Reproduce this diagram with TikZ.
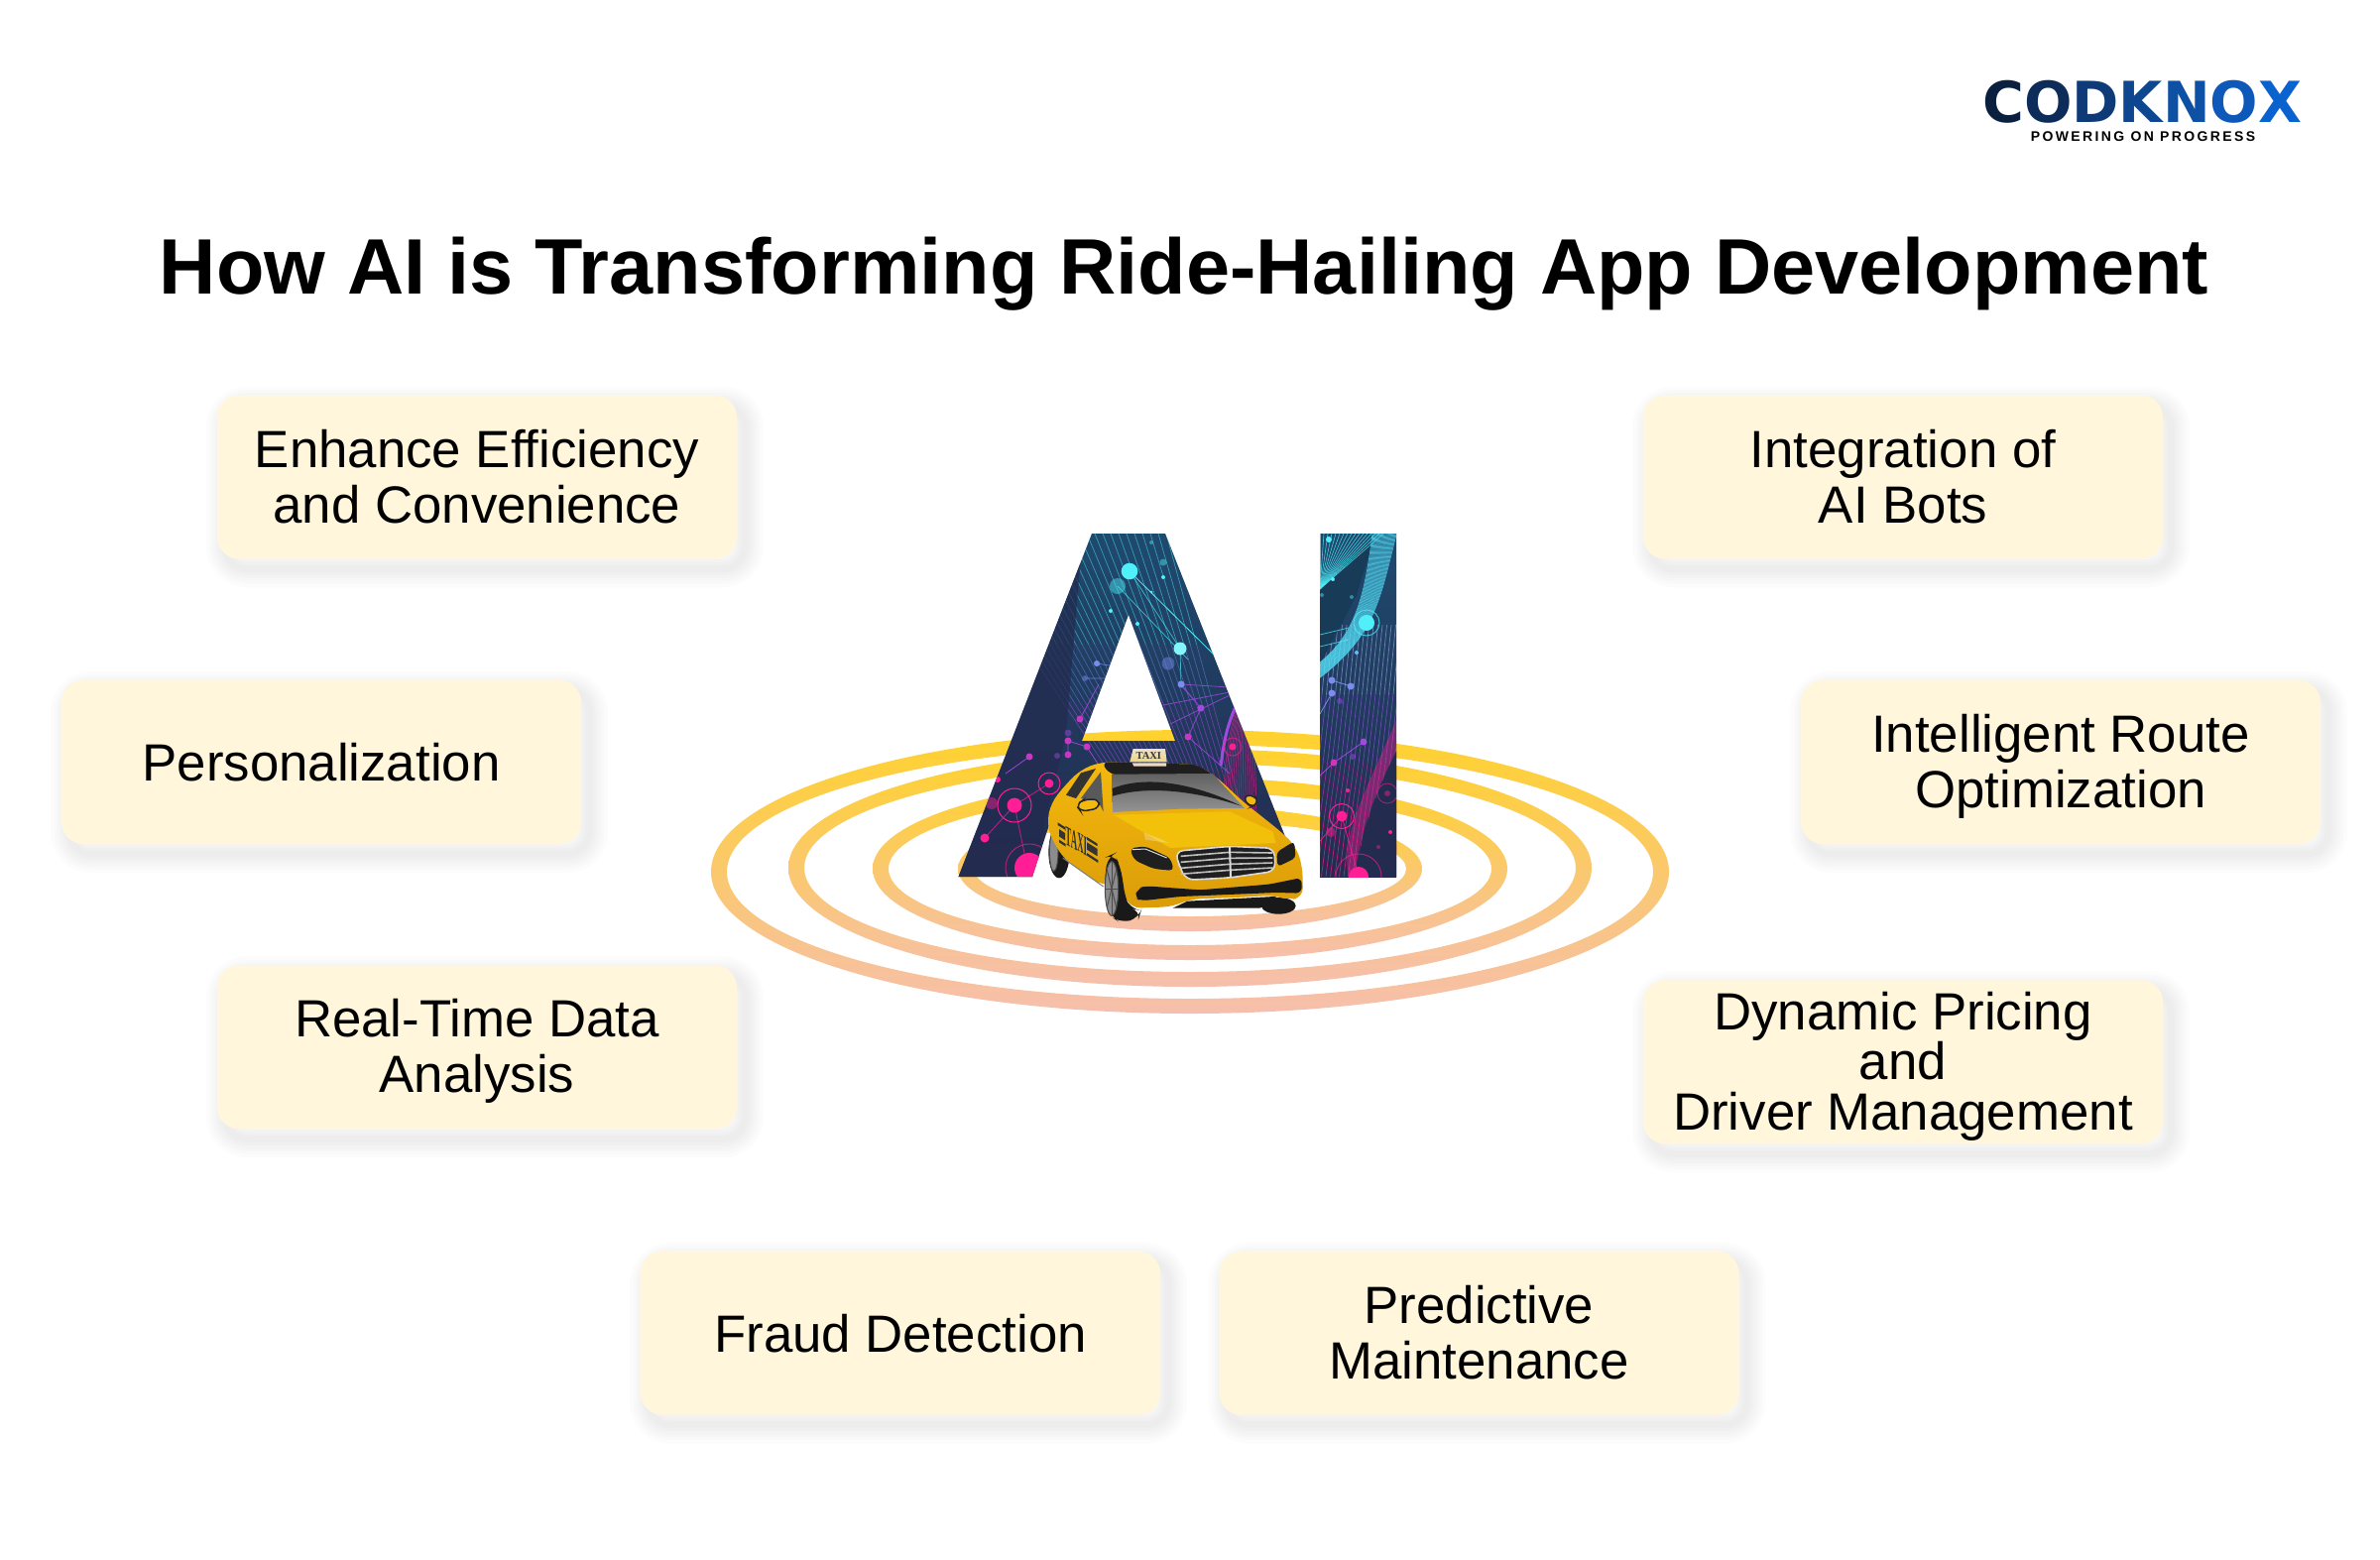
\documentclass[tikz,border=0pt]{standalone}
\usepackage{fontspec}
\usepackage{tikz}
\usetikzlibrary{positioning}
\setmainfont{Liberation Sans}
\newfontfamily\logofont{DejaVu Sans}
\newfontfamily\tagfont[LetterSpace=17]{Liberation Sans}
\newfontfamily\signfont{Liberation Serif}

\definecolor{cardfill}{HTML}{FFF6DB}
\definecolor{ringtop}{HTML}{FFD22C}
\definecolor{ringmid}{HTML}{FCCB68}
\definecolor{ringlow}{HTML}{F6BFAE}
\definecolor{aitop}{HTML}{1E4A6E}
\definecolor{aimid}{HTML}{2B3568}
\definecolor{ailow}{HTML}{232B4F}
\definecolor{dotcyan}{HTML}{4FF0FA}
\definecolor{dotblue}{HTML}{7A8CF0}
\definecolor{dotviolet}{HTML}{A24AE0}
\definecolor{dotpink}{HTML}{FF1E96}
\definecolor{taxi}{HTML}{F4B90E}
\definecolor{taxilow}{HTML}{DB9C08}
\definecolor{logoa}{HTML}{0B1F3F}
\definecolor{logob}{HTML}{0D2C5A}
\definecolor{logoc}{HTML}{0F3A78}
\definecolor{logod}{HTML}{0E4790}
\definecolor{logoe}{HTML}{0D50A4}
\definecolor{logof}{HTML}{0D58B8}
\definecolor{logog}{HTML}{0A62CE}

\def\letterA{(966.5,884) -- (1101,538) -- (1138,538) -- (1138,620) -- (1091,747) -- (1185,747) -- (1138,620) -- (1138,538) -- (1175,538) -- (1312,884) -- (1237,884) -- (1210,810) -- (1065,810) -- (1041,884) -- cycle}
\def\letterI{(1331,538) rectangle (1408,884)}
\def\topstrut{\rule{0pt}{48.2pt}}
\def\talltop{\rule{0pt}{46.6pt}}
\def\lowstrut{\rule[-10.4pt]{0pt}{10.4pt}}

\tikzset{
	shadowstroke/.style={preaction={draw=black, draw opacity=.012, line width=#1, transform canvas={shift={(8pt,-10pt)}}}},
	softshadow/.style={shadowstroke=38pt, shadowstroke=31pt, shadowstroke=25pt, shadowstroke=19pt, shadowstroke=13pt, shadowstroke=7pt},
	card/.style={softshadow, fill=cardfill, rounded corners=22pt, minimum width=524pt, minimum height=165pt,
		inner sep=0pt, align=center, font=\fontsize{52.8}{56}\selectfont,
		execute at end node=\lowstrut},
	ring/.style={even odd rule, top color=ringtop, middle color=ringmid, bottom color=ringlow},
	halo/.style={draw=#1, line width=1pt},
	tire/.style={fill=black!90},
	rim/.style={fill=black!45, draw=black!70, line width=1pt},
	slat/.style={draw=black!25, line width=1.6pt}
}

\begin{document}
\begin{tikzpicture}[x=1pt, y=-1pt]
	\useasboundingbox (0,0) rectangle (2400,1572);
	\fill[white] (0,0) rectangle (2400,1572);

	% logo and title
	\node[anchor=base west, inner sep=0pt, font=\logofont\bfseries\fontsize{57}{57}\selectfont] (logo) at (1999,123)
		{\textcolor{logoa}{C}\textcolor{logob}{O}\textcolor{logoc}{D}\textcolor{logod}{K}\textcolor{logoe}{N}\textcolor{logof}{O}\textcolor{logog}{X}};
	\node[anchor=base, inner sep=0pt, font=\tagfont\bfseries\fontsize{14}{14}\selectfont] (tagline) at (2161,142) {POWERING ON PROGRESS};
	\node[anchor=base, inner sep=0pt, font=\bfseries\fontsize{79.3}{80}\selectfont] (title) at (1194,296)
		{How AI is Transforming Ride-Hailing App Development};

	% rings
	\shade[ring] (1200,879) ellipse [x radius=483, y radius=143] (1200,879) ellipse [x radius=467, y radius=128];
	\shade[ring] (1200,875) ellipse [x radius=405, y radius=120] (1200,875) ellipse [x radius=389, y radius=105];
	\shade[ring] (1200,876) ellipse [x radius=320, y radius=92] (1200,876) ellipse [x radius=304, y radius=77];
	\shade[ring] (1200,876) ellipse [x radius=234, y radius=63] (1200,876) ellipse [x radius=218, y radius=48];

	% letter A
	\begin{scope}
		\clip \letterA;
		\shade[top color=aitop, middle color=aimid, bottom color=ailow] (960,538) rectangle (1320,884);
		\foreach \x in {960,968,...,1176} {
			\draw[dotcyan, opacity=.5, line width=.7pt] (\x,538) -- ({\x+(1330-\x)*.1993},650);
			\draw[dotblue, opacity=.45, line width=.7pt] ({\x+(1330-\x)*.1993},650) -- ({\x+(1330-\x)*.3025},708);
			\draw[dotviolet, opacity=.55, line width=.7pt] ({\x+(1330-\x)*.3025},708) -- ({\x+(1330-\x)*.427},778);
			\draw[dotpink, opacity=.45, line width=.7pt] ({\x+(1330-\x)*.427},778) -- ({\x+(1330-\x)*.6157},884);
		}
		\fill[ailow, opacity=.75] (960,884) -- (1090,560) -- (1075,740) -- (1041,884) -- cycle;
		\foreach \i in {0,2,...,34}
			\draw[dotpink, opacity=.5, line width=.7pt] (1225+\i,884) .. controls (1240+\i,800) and (1228+\i,760) .. (1252+\i*.3,700);
		\draw[dotviolet, line width=3pt] (1247,710) .. controls (1236,735) and (1234,750) .. (1231,772);
		\draw[dotviolet, opacity=.8, line width=.8pt] (1240,693) -- (1191,690) (1240,698) -- (1173,711) (1240,701) -- (1180,730)
			(1191,690) -- (1211,714) -- (1198,743) (1211,714) -- (1190,690) (1198,743) -- (1240,780);
		\draw[dotcyan, line width=.8pt] (1139,576) -- (1224,660);
		\draw[dotcyan, opacity=.7, line width=.7pt] (1139,576) -- (1190,654) -- (1191,690) (1127,591) -- (1198,665);
		\draw[dotblue, opacity=.8, line width=.7pt] (1106,669) -- (1125,672) (1094,684) -- (1115,684);
		\draw[dotviolet, line width=.7pt] (1089,725) -- (1108,690) (1077,747) -- (1096,753) (1077,747) -- (1077,761) (1096,753) -- (1120,790) (1038,763) -- (1014,780);
		\draw[dotpink, opacity=.7, line width=.8pt] (1023,812) -- (993,845) (1023,812) -- (1058,790) (1023,812) -- (1036,875);
		\foreach \x/\y/\r/\c in {1139/576/8.3/dotcyan, 1173/582/2/dotcyan, 1120/616/2/dotcyan, 1147/629/2/dotcyan, 1161/597/1.5/dotcyan,
				1190/654/6.5/dotcyan!70!white, 1106/669/3/dotblue, 1191/690/3.5/dotblue,
				1211/714/3.5/dotviolet, 1198/743/3.5/dotviolet!60!dotpink, 1089/725/3.5/dotviolet!60!dotpink, 1077/747/3.5/dotviolet!60!dotpink,
				1096/753/3.5/dotviolet!60!dotpink, 1077/761/3.5/dotviolet!60!dotpink, 1038/763/3.5/dotviolet!60!dotpink, 1006/786/3/dotpink,
				1058/790/4.5/dotpink, 1023/812/7.5/dotpink, 993/845/4.5/dotpink, 1038/875/15/dotpink, 1243/753/3.5/dotpink}
			\fill[\c] (\x,\y) circle [radius=\r];
		\foreach \x/\y/\r/\c in {1127/591/8/dotcyan, 1173/567/3.5/dotcyan, 1161/547/2/dotcyan, 1178/669/6.5/dotblue, 1094/684/3/dotblue,
				1077/739/3.5/dotviolet, 1066/762/3/dotviolet, 1000/810/6/dotpink}
			\fill[\c, opacity=.45] (\x,\y) circle [radius=\r];
		\draw[halo=dotpink] (1023,812) circle [radius=17];
		\draw[halo=dotpink] (1058,790) circle [radius=11];
		\draw[halo=dotpink, opacity=.6] (1243,753) circle [radius=9];
		\draw[halo=dotpink, opacity=.6] (1038,875) circle [radius=24];
	\end{scope}

	% letter I
	\begin{scope}
		\clip \letterI;
		\shade[top color=aitop, middle color=aimid, bottom color=ailow] (1331,538) rectangle (1408,884);
		\foreach \x in {1331,1335.5,...,1440} {
			\draw[dotblue!60!white, opacity=.55, line width=.7pt] (\x,630) -- (\x-7,700);
			\draw[dotviolet!70!dotblue, opacity=.6, line width=.7pt] (\x-7,700) -- (\x-15,770);
			\draw[dotviolet!40!dotpink, opacity=.6, line width=.7pt] (\x-15,770) -- (\x-22,820);
			\draw[dotpink, opacity=.7, line width=.7pt] (\x-22,820) -- (\x-30,884);
		}
		\fill[ailow] (1408,757) .. controls (1390,795) and (1372,840) .. (1367,884) -- (1408,884) -- cycle;
		\foreach \i in {0,1.5,...,30}
			\draw[dotpink, opacity=.4, line width=.5pt] (1408,757-\i) .. controls (1388-\i*.3,795) and (1370-\i*.6,840) .. (1366-\i*.2,884);
		\fill[aitop!80!black] (1331,590) -- (1385,545) -- (1368,600) -- (1331,670) -- cycle;
		\foreach \i in {0,4,...,64}
			\draw[dotcyan, opacity=.8, line width=.6pt] (1331+\i,538) -- (1331,594);
		\foreach \i in {0,1,...,22}
			\draw[dotcyan!85!dotblue, opacity=.8, line width=.6pt] (1384+\i*1.1,538) .. controls (1376+\i*.7,605) and (1365+\i,640) .. (1331,668+\i*.7);
		\draw[dotcyan, opacity=.7, line width=.8pt] (1331,640) -- (1360,633) (1331,652) -- (1360,645);
		\draw[dotblue, line width=.8pt] (1343,686) -- (1362,692) (1343,699) -- (1331,720);
		\draw[dotviolet, line width=.8pt] (1375,748) -- (1345,769) -- (1331,782);
		\draw[dotpink, opacity=.8, line width=.8pt] (1353,823) -- (1331,848) (1353,823) -- (1370,883);
		\foreach \x/\y/\r/\c in {1340/544/3/dotcyan, 1344/584/2/dotcyan, 1378/628/8/dotcyan, 1368/658/2/dotcyan!50!dotblue,
				1343/686/3.5/dotblue, 1362/692/3.5/dotblue, 1343/699/3.5/dotblue,
				1375/748/3.5/dotviolet, 1345/769/3.5/dotviolet!50!dotpink, 1359/797/2/dotpink, 1353/823/5.5/dotpink,
				1402/839/2/dotpink, 1370/884/10/dotpink}
			\fill[\c] (\x,\y) circle [radius=\r];
		\foreach \x/\y/\r/\c in {1333/600/2/dotcyan, 1363/602/2/dotcyan, 1351/707/3/dotviolet, 1364/763/3/dotviolet, 1342/839/5/dotpink,
				1390/854/2/dotpink, 1399/800/3/dotpink}
			\fill[\c, opacity=.45] (\x,\y) circle [radius=\r];
		\draw[halo=dotcyan, opacity=.7] (1378,628) circle [radius=13];
		\draw[halo=dotpink] (1353,823) circle [radius=12.5];
		\draw[halo=dotpink, opacity=.6] (1370,884) circle [radius=23];
		\draw[halo=dotpink, opacity=.5] (1399,800) circle [radius=10];
	\end{scope}

	% taxi, in the coordinates of a 3x crop
	\begin{scope}[x=1pt/3, y=-1pt/3, shift={(1040pt,-750pt)}]
		% wheels behind the body
		\fill[tire] (84,328) ellipse [x radius=32, y radius=78];
		\fill[rim] (68,325) ellipse [x radius=13, y radius=60];
		\fill[tire] (748,490) ellipse [x radius=52, y radius=25];
		% body
		\shade[top color=taxi, bottom color=taxilow, rounded corners=10pt]
			(47,240) -- (60,178) -- (105,122) -- (150,78) -- (210,55) -- (500,62) -- (560,100) -- (640,175)
			-- (700,222) -- (760,270) -- (800,310) -- (820,370) -- (822,466) -- (775,472) -- (735,458) -- (640,464)
			-- (480,470) -- (425,493) -- (300,497) -- (262,420) -- (215,430) -- (100,350) -- (60,285) -- cycle;
		\fill[taxi!75!yellow, opacity=.7] (250,215) -- (600,205) -- (730,265) -- (740,300) -- (420,315) -- (340,268) -- cycle;
		\fill[white, opacity=.25] (340,268) -- (395,290) -- (415,300) -- (345,290) -- cycle;
		\draw[black!50, line width=1pt] (95,345) -- (218,432);
		% roof and glass
		\fill[black!88, rounded corners=8pt] (210,55) -- (500,62) -- (560,100) -- (240,95) -- cycle;
		\shade[top color=black!62, bottom color=black!42] (243,92) -- (548,90) -- (645,195) -- (450,197) -- (246,207) -- cycle;
		\fill[black!88] (245,135) .. controls (320,105) and (450,100) .. (635,188) .. controls (470,135) and (340,130) .. (246,158) -- cycle;
		\fill[black!80] (105,155) -- (150,88) -- (195,75) -- (135,165) -- cycle;
		\fill[black!65] (150,165) -- (210,85) -- (218,205) -- (205,180) -- cycle;
		% mirrors
		\fill[taxi, draw=black!85, line width=1.5pt, rounded corners=6pt] (135,185) -- (160,168) -- (205,168) -- (205,195) -- (150,205) -- cycle;
		\fill[taxi, draw=black!85, line width=1.5pt, rounded corners=6pt] (640,158) -- (675,155) -- (688,180) -- (660,192) -- cycle;
		% roof sign
		\shade[top color=brown!25!white, bottom color=yellow!50!brown!60!white] (308,15) -- (405,15) -- (410,55) -- (298,55) -- cycle;
		\node[font=\signfont\bfseries\fontsize{10.5}{10.5}\selectfont, black!80, inner sep=0pt] (roofsign) at (355,36) {TAXI};
		\fill[white!70!brown] (305,58) -- (408,58) -- (408,68) -- (310,68) -- cycle;
		% door lettering
		\node[font=\signfont\bfseries\fontsize{28}{28}\selectfont, black!80, inner sep=0pt, xscale=.32, yslant=-.18, transform shape] (doorsign) at (136,294) {TAXI};
		\fill[black!80] (80,238) -- (102,252) -- (102,260) -- (80,246) -- cycle
			(84,258) -- (102,270) -- (102,292) -- (84,280) -- cycle
			(84,290) -- (104,303) -- (104,311) -- (84,298) -- cycle
			(168,282) -- (200,302) -- (200,310) -- (168,290) -- cycle
			(168,298) -- (200,318) -- (200,340) -- (168,320) -- cycle
			(168,330) -- (202,352) -- (202,360) -- (168,338) -- cycle;
		% front end
		\fill[black!88, rounded corners=5pt] (297,316) -- (345,310) -- (420,345) -- (432,384) -- (370,378) -- (312,352) -- cycle;
		\draw[white!85!black, line width=1pt] (305,320) -- (345,318) -- (410,345);
		\fill[black!88, rounded corners=4pt] (742,328) -- (795,295) -- (800,345) -- (745,372) -- cycle;
		\fill[black!88, draw=black!15, line width=1.6pt, rounded corners=8pt] (435,325) -- (600,310) -- (735,316) -- (738,385) -- (600,405) -- (468,412) -- (448,370) -- cycle;
		\foreach \i in {0,1,2,3}
			\draw[slat] (452,340+\i*18) -- (600,328+\i*18) -- (730,330+\i*15);
		\draw[black!15, line width=2pt] (600,312) -- (603,403);
		\fill[black!90, rounded corners=6pt] (312,465) -- (322,438) -- (345,430) -- (510,442) -- (720,425) -- (818,405) -- (818,452) -- (740,450) -- (450,462) -- (332,475) -- cycle;
		\fill[black!90] (428,497) -- (472,476) -- (735,462) -- (770,475) -- (690,497) -- cycle;
		% front wheel
		\fill[tire, rounded corners=10pt] (222,400) -- (232,340) -- (250,332) -- (270,372) -- (285,470) -- (298,497) -- (332,505) -- (325,528) -- (270,542) -- (240,522) -- (224,470) -- cycle;
		\fill[rim] (243,438) ellipse [x radius=20, y radius=82];
		\foreach \i in {0,45,90,135}
			\draw[black!70, line width=1pt] (243,438) -- ++({20*cos(\i)},{80*sin(\i)}) (243,438) -- ++({-20*cos(\i)},{-80*sin(\i)});
	\end{scope}

	% cards
	\node[card] (efficiency) at (481,481) {\talltop Enhance Efficiency\\and Convenience};
	\node[card, below=122pt of efficiency, xshift=-157pt] (personal) {\topstrut Personalization};
	\node[card, below=122pt of personal, xshift=157pt] (realtime) {\talltop Real-Time Data\\Analysis};
	\node[card, below=123pt of realtime, xshift=427pt] (fraud) {\topstrut Fraud Detection};
	\node[card, right=59pt of fraud] (predictive) {\talltop Predictive\\Maintenance};
	\node[card] (bots) at (1919,481) {\talltop Integration of\\AI Bots};
	\node[card, below=122pt of bots, xshift=159pt] (route) {\talltop Intelligent Route\hspace{12pt}\\Optimization};
	\node[card, below=137pt of route, xshift=-159pt] (pricing) {\talltop Dynamic Pricing\\[-5.5pt]and\\[-5.5pt]Driver Management};
\end{tikzpicture}
\end{document}
